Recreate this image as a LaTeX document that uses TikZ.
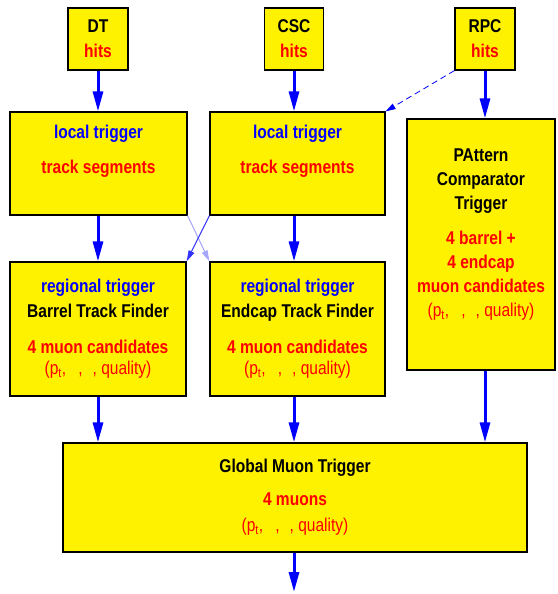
\documentclass[tikz,border=0pt]{standalone}
\usepackage{fontspec}
\setmainfont[FakeStretch=0.84]{Liberation Sans}
\usepackage{xcolor}
\usetikzlibrary{arrows.meta,positioning}

\newcommand{\ptqual}{\mdseries(p\textsubscript{t},\hspace{12pt},\hspace{10pt}, quality)}

\begin{document}
\begin{tikzpicture}[
  x=1pt, y=-1pt,
  box/.style={
    rectangle,
    draw=black,
    line width=1.2pt,
    fill=yellow,
    inner sep=0pt
  },
  txt/.style={
    align=center,
    font=\fontsize{18.5}{23}\selectfont\bfseries
  },
  arrow/.style={
    -{Triangle[length=20pt,width=10pt]},
    line width=3pt,
    draw=blue
  },
  cross/.style={
    -{Triangle[length=11pt,width=6pt]},
    line width=1pt
  },
  dasharrow/.style={
    -{Triangle[length=10pt,width=6pt]},
    line width=0.8pt,
    draw=blue,
    dash pattern=on 6pt off 4pt
  }
]

  \useasboundingbox (0,0) rectangle (557,594);

  % Hits
  \node[box, minimum width=60, minimum height=62] (dt) at (98,39) {};
  \node[txt] (dttxt) at (dt) {DT\\[2pt]\textcolor{red}{hits}};

  \node[box, minimum width=59, minimum height=62] (csc) at (294,39) {};
  \node[txt] (csctxt) at (csc) {CSC\\[2pt]\textcolor{red}{hits}};

  \node[box, minimum width=60, minimum height=62] (rpc) at (485,39) {};
  \node[txt] (rpctxt) at (rpc) {RPC\\[2pt]\textcolor{red}{hits}};

  % Local triggers
  \node[box, minimum width=177, minimum height=103] (loc1) at (98.5,163.5) {};
  \node[txt, yshift=12pt] (loc1txt) at (loc1) {\textcolor{blue}{local trigger}\\[12pt]\textcolor{red}{track segments}};

  \node[box, minimum width=175, minimum height=103] (loc2) at (297.5,163.5) {};
  \node[txt, yshift=12pt] (loc2txt) at (loc2) {\textcolor{blue}{local trigger}\\[12pt]\textcolor{red}{track segments}};

  % Pattern comparator
  \node[box, minimum width=148, minimum height=251] (pact) at (481,244.5) {};
  \node[txt, yshift=10pt] (pacttxt) at (pact) {PAttern\\[1pt]Comparator\\[1pt]Trigger\\[12pt]
    \textcolor{red}{4 barrel +}\\[1pt]\textcolor{red}{4 endcap}\\[1pt]\textcolor{red}{muon candidates}\\[1pt]\textcolor{red}{\ptqual}};

  % Regional triggers
  \node[box, minimum width=176, minimum height=134] (reg1) at (98,329) {};
  \node[txt] (reg1txt) at (reg1) {\textcolor{blue}{regional trigger}\\[2pt]Barrel Track Finder\\[13pt]
    \textcolor{red}{4 muon candidates}\\[-2pt]\textcolor{red}{\ptqual}};

  \node[box, minimum width=175, minimum height=134] (reg2) at (297.5,329) {};
  \node[txt] (reg2txt) at (reg2) {\textcolor{blue}{regional trigger}\\[2pt]Endcap Track Finder\\[13pt]
    \textcolor{red}{4 muon candidates}\\[-2pt]\textcolor{red}{\ptqual}};

  % Global Muon Trigger
  \node[box, minimum width=464, minimum height=109] (glob) at (295,497.5) {};
  \node[txt] (globtxt) at (glob) {Global Muon Trigger\\[10pt]\textcolor{red}{4 muons}\\[3pt]\textcolor{red}{\ptqual}};

  \coordinate (out) at (294,592);

  % Arrows - hits to local
  \draw[arrow] (dt.south) -- (dt.south |- loc1.north);
  \draw[arrow] (csc.south) -- (csc.south |- loc2.north);
  \draw[arrow] (rpc.south) -- (rpc.south |- pact.north);
  \draw[dasharrow] (rpc.south west) -- (loc2.north east);

  % Local to regional
  \draw[arrow] (dt.south |- loc1.south) -- (dt.south |- reg1.north);
  \draw[arrow] (csc.south |- loc2.south) -- (csc.south |- reg2.north);
  \draw[cross, draw=blue!35, fill=blue!60] (loc1.south east) -- (reg2.north west);
  \draw[cross, draw=blue!80, fill=blue!80] (loc2.south west) -- (reg1.north east);

  % Into global
  \draw[arrow] (dt.south |- reg1.south) -- (dt.south |- glob.north);
  \draw[arrow] (csc.south |- reg2.south) -- (csc.south |- glob.north);
  \draw[arrow] (rpc.south |- pact.south) -- (rpc.south |- glob.north);
  \draw[arrow] (glob.south -| out) -- (out);

\end{tikzpicture}
\end{document}
